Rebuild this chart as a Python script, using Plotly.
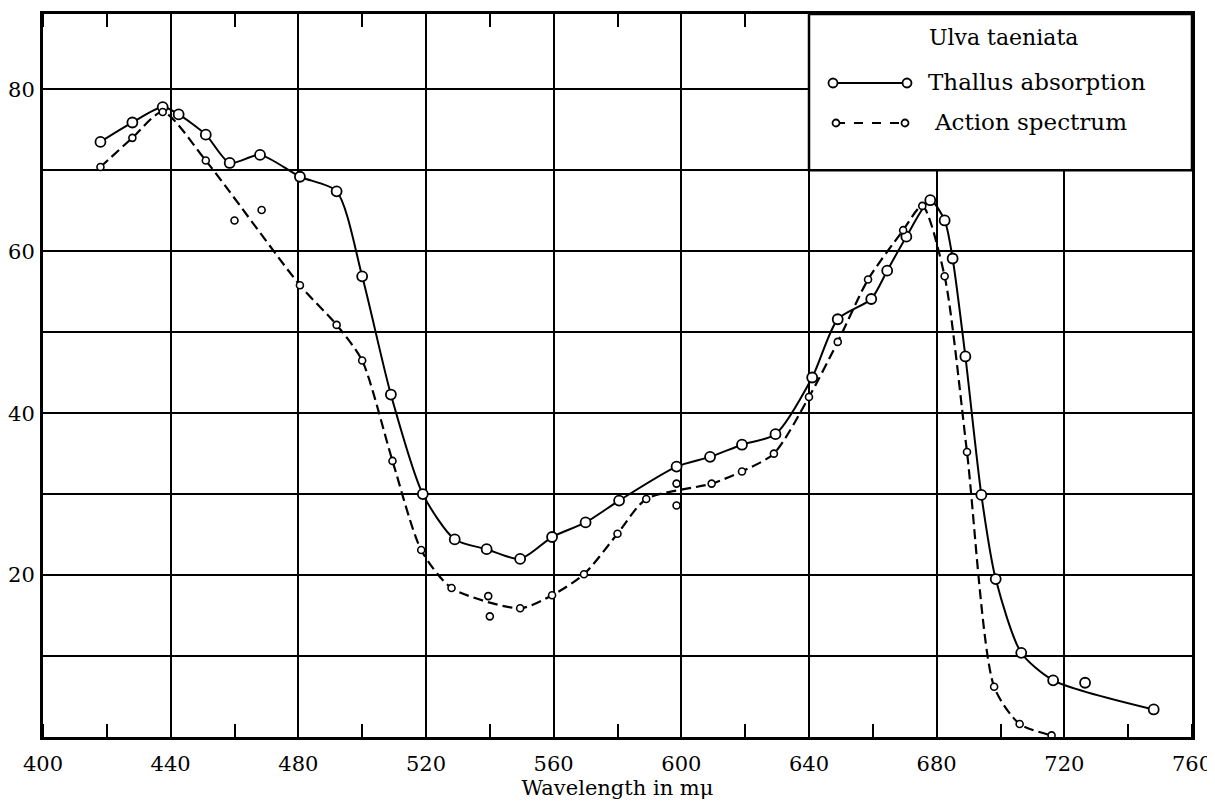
import plotly.graph_objects as go

# ---- data ----
thallus_x = [418, 428, 437.5, 442.5, 451, 458.5, 468, 480.5, 492, 500, 509, 519, 529, 539,
             549.5, 559.5, 570, 580.5, 598.5, 609, 619, 629.5, 641, 649, 659.5, 664.5, 670.5,
             678, 682.5, 685, 689, 694, 698.5, 706.5, 716.5, 748]
thallus_y = [73.5, 75.9, 77.8, 76.9, 74.4, 70.9, 71.9, 69.2, 67.4, 56.9, 42.3, 30.0, 24.4, 23.2,
             22.0, 24.7, 26.5, 29.2, 33.4, 34.6, 36.1, 37.4, 44.4, 51.6, 54.1, 57.6, 61.8,
             66.3, 63.8, 59.1, 47.0, 29.9, 19.5, 10.4, 7.0, 3.4]
thallus_extra_x = [726.5]
thallus_extra_y = [6.7]

action_x = [418, 428, 437.5, 451, 480.5, 492, 500, 509.5, 518.5, 528, 549.5, 559.5, 569.5,
            580, 589, 609.5, 619, 629, 640, 649, 658.5, 669.5, 675.5, 682.5, 689.5, 698, 706, 716]
action_y = [70.4, 74.0, 77.2, 71.2, 55.8, 50.9, 46.5, 34.1, 23.1, 18.4, 15.9, 17.5, 20.1,
            25.1, 29.4, 31.3, 32.8, 35.0, 42.0, 48.8, 56.5, 62.6, 65.6, 56.9, 35.2, 6.2, 1.6, 0.2]
action_extra_x = [460, 468.5, 539.5, 540, 598.5, 598.5]
action_extra_y = [63.8, 65.1, 17.4, 14.9, 31.3, 28.6]

x_ticks = [400, 440, 480, 520, 560, 600, 640, 680, 720, 760]
y_grid = [10, 20, 30, 40, 50, 60, 70, 80]
y_labels = ['', '20', '', '40', '', '60', '', '80']

legend_title = "Ulva taeniata"
name_thallus = "Thallus absorption"
name_action = "Action spectrum"
x_title = "Wavelength in mμ"

FONT = "DejaVu Serif"
X_MIN, X_MAX = 400, 760
Y_MIN, Y_MAX = 0, 89.3

# The page body has an 8px margin, so the figure starts at (8, 8) on screen.
OFF = 8
W, H = 1215 - OFF, 811 - 2 * OFF
PL, PR, PT, PB = 43 - OFF, 1192 - OFF, 14 - OFF, 737 - OFF  # plot area, figure pixels

fig = go.Figure()

fig.add_trace(go.Scatter(
    x=thallus_x, y=thallus_y, mode="lines+markers", name=name_thallus,
    line=dict(color="black", width=2, shape="spline", smoothing=0.7),
    marker=dict(symbol="circle", size=10, color="white", line=dict(color="black", width=1.8)),
    showlegend=False,
))
fig.add_trace(go.Scatter(
    x=thallus_extra_x, y=thallus_extra_y, mode="markers", name=name_thallus,
    marker=dict(symbol="circle", size=10, color="white", line=dict(color="black", width=1.8)),
    showlegend=False,
))
fig.add_trace(go.Scatter(
    x=action_x, y=action_y, mode="lines+markers", name=name_action,
    line=dict(color="black", width=2.2, dash="10px,5px", shape="spline", smoothing=0.7),
    marker=dict(symbol="circle", size=7, color="white", line=dict(color="black", width=1.6)),
    showlegend=False,
))
fig.add_trace(go.Scatter(
    x=action_extra_x, y=action_extra_y, mode="markers", name=name_action,
    marker=dict(symbol="circle", size=7, color="white", line=dict(color="black", width=1.6)),
    showlegend=False,
))

# legend box (covers the grid in the top-right corner)
shapes = [dict(type="rect", xref="x", yref="y", x0=640, x1=X_MAX, y0=70, y1=Y_MAX,
               fillcolor="white", line=dict(color="black", width=2.5), layer="above")]


def px_x(p):
    # p: screen pixel
    return (p - OFF - PL) / (PR - PL)


def px_y(p):
    return 1 - (p - OFF - PT) / (PB - PT)


for (x0, x1, yy, dash, r) in [(833, 907, 83, "solid", 4.5), (836, 905, 123, "dash", 3.5)]:
    shapes.append(dict(type="line", xref="paper", yref="paper",
                       x0=px_x(x0), x1=px_x(x1), y0=px_y(yy), y1=px_y(yy),
                       line=dict(color="black", width=2, dash=dash), layer="above"))
    for cx in (x0, x1):
        shapes.append(dict(type="circle", xref="paper", yref="paper",
                           x0=px_x(cx - r), x1=px_x(cx + r), y0=px_y(yy + r), y1=px_y(yy - r),
                           fillcolor="white", line=dict(color="black", width=1.8), layer="above"))

annotations = [
    dict(text=legend_title, xref="paper", yref="paper", x=px_x(1003), y=px_y(38),
         xanchor="center", yanchor="middle", showarrow=False,
         font=dict(family=FONT, size=22, color="black")),
    dict(text=name_thallus, xref="paper", yref="paper", x=px_x(926), y=px_y(82),
         xanchor="left", yanchor="middle", showarrow=False,
         font=dict(family=FONT, size=23, color="black")),
    dict(text=name_action, xref="paper", yref="paper", x=px_x(932), y=px_y(122),
         xanchor="left", yanchor="middle", showarrow=False,
         font=dict(family=FONT, size=23, color="black")),
]

fig.update_layout(
    width=W, height=H,
    margin=dict(l=PL, r=W - PR, t=PT, b=H - PB),
    paper_bgcolor="white", plot_bgcolor="white",
    font=dict(family=FONT, size=21, color="black"),
    shapes=shapes, annotations=annotations,
    showlegend=False,
)

fig.update_xaxes(
    range=[X_MIN, X_MAX], tickvals=x_ticks, ticks="", showgrid=True,
    gridcolor="black", gridwidth=2,
    showline=True, linecolor="black", linewidth=3, mirror="ticks",
    minor=dict(dtick=20, tick0=400, ticks="inside", ticklen=13, tickwidth=2,
               tickcolor="black", showgrid=False),
    tickfont=dict(family=FONT, size=21, color="black"),
    ticklabelstandoff=6,
    title=dict(text=x_title, font=dict(family=FONT, size=21, color="black"), standoff=0),
    automargin=False, zeroline=False,
)
fig.update_yaxes(
    range=[Y_MIN, Y_MAX], tickvals=y_grid, ticktext=y_labels, ticks="",
    showgrid=True, gridcolor="black", gridwidth=2,
    showline=True, linecolor="black", linewidth=3, mirror=True,
    tickfont=dict(family=FONT, size=21, color="black"),
    ticklabelstandoff=1,
    automargin=False, zeroline=False,
)

fig.write_html("out.html")
